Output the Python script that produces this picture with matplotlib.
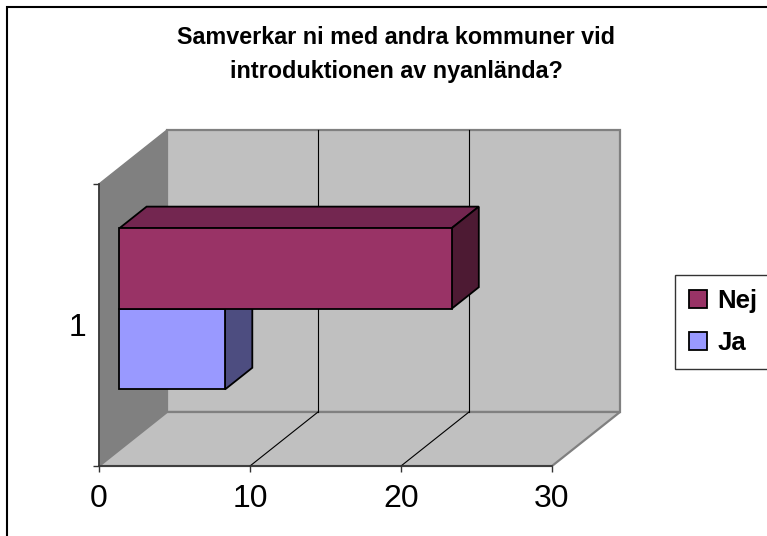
import matplotlib
matplotlib.use("Agg")
import matplotlib.pyplot as plt
from matplotlib.patches import Polygon, Rectangle, Patch

plt.rcParams['font.family'] = ['Liberation Sans', 'DejaVu Sans']

# data
title_lines = ["Samverkar ni med andra kommuner vid", "introduktionen av nyanlända?"]
series = ["Ja", "Nej"]
values = [7, 22]
front_colors = ["#9999FF", "#993366"]
top_colors = ["#7373BF", "#732650"]
side_colors = ["#4D4D80", "#4D1A33"]
category = "1"
xticks = [0, 10, 20, 30]

W, H = 767, 536
fig = plt.figure(figsize=(W / 100, H / 100), dpi=100)

# axes = front plane of the 3D box
ax = fig.add_axes([99 / W, 70 / H, 453 / W, 282 / H])
ax.set_xlim(0, 30)
ax.set_ylim(0, 1)
ax.patch.set_visible(False)

# depth offset (full depth) in data units
DX = 68 / 15.1
DY = 54 / 282


def p(v, c, d):
    return (v + d * DX, c + d * DY)


def face(pts, color, z, ec="black", lw=1.3):
    ax.add_patch(Polygon(pts, closed=True, facecolor=color, edgecolor=ec,
                         linewidth=lw, clip_on=False, zorder=z, joinstyle="miter"))


vmax = xticks[-1]
# walls
face([p(0, 0, 0), p(0, 1, 0), p(0, 1, 1), p(0, 0, 1)], "#808080", 0.5, ec="#808080", lw=1)
face([p(0, 0, 1), p(vmax, 0, 1), p(vmax, 1, 1), p(0, 1, 1)], "#C0C0C0", 0.6, ec="#808080", lw=1.6)
face([p(0, 0, 0), p(vmax, 0, 0), p(vmax, 0, 1), p(0, 0, 1)], "#C0C0C0", 0.7, ec="#808080", lw=1.6)

# gridlines
for v in xticks[1:-1]:
    ax.plot(*zip(p(v, 0, 1), p(v, 1, 1)), color="black", lw=0.8, clip_on=False, zorder=0.8)
    ax.plot(*zip(p(v, 0, 0), p(v, 0, 1)), color="black", lw=0.8, clip_on=False, zorder=0.8)

# bars
n = len(series)
h = 1 / (n + 1.5)
d0, d1 = 0.3, 0.7
for i, (v, fc, tc, sc) in enumerate(zip(values, front_colors, top_colors, side_colors)):
    c0 = 0.5 - h + i * h
    z = 3 + i
    face([p(0, c0 + h, d0), p(v, c0 + h, d0), p(v, c0 + h, d1), p(0, c0 + h, d1)], tc, z)
    face([p(v, c0, d0), p(v, c0 + h, d0), p(v, c0 + h, d1), p(v, c0, d1)], sc, z)
    face([p(0, c0, d0), p(v, c0, d0), p(v, c0 + h, d0), p(0, c0 + h, d0)], fc, z)

# axes styling
for s in ["top", "right"]:
    ax.spines[s].set_visible(False)
for s in ["left", "bottom"]:
    ax.spines[s].set_color("#333333")
    ax.spines[s].set_linewidth(1.2)
    ax.spines[s].set_zorder(2)
ax.set_xticks(xticks)
ax.set_xticklabels([str(t) for t in xticks])
ax.tick_params(axis="x", direction="out", length=4, width=1, labelsize=23, pad=9,
               color="#333333")
ax.set_yticks([0, 1])
ax.set_yticklabels(["", ""])
ax.set_yticks([0.5], minor=True)
ax.set_yticklabels([category], minor=True)
ax.tick_params(axis="y", which="major", direction="out", length=4, width=1, color="#333333")
ax.tick_params(axis="y", which="minor", length=0, labelsize=23, pad=9)

# title
fig.text(396 / W, 1 - 44 / H, title_lines[0], ha="center", va="baseline",
         fontsize=16.8, fontweight="bold")
fig.text(396 / W, 1 - 78 / H, title_lines[1], ha="center", va="baseline",
         fontsize=16.8, fontweight="bold")

# legend (Nej first)
handles = [Patch(facecolor=front_colors[i], edgecolor="black", linewidth=1.3)
           for i in reversed(range(n))]
labels = [series[i] for i in reversed(range(n))]
leg = fig.legend(handles, labels, loc="upper left",
                 bbox_to_anchor=(675 / W, 1 - 275 / H), frameon=True, fancybox=False,
                 prop={"size": 18.5, "weight": "bold"}, handlelength=0.7, handleheight=0.7,
                 handletextpad=0.4, labelspacing=0.7, borderpad=0.55, borderaxespad=0)
leg.get_frame().set_edgecolor("black")
leg.get_frame().set_linewidth(1)

# outer frame
fig.add_artist(Rectangle((7 / W, -0.1), 1.2, (H - 7) / H + 0.1, transform=fig.transFigure,
                         fill=False, edgecolor="black", linewidth=1.5))

fig.savefig("out.png", dpi=100)
